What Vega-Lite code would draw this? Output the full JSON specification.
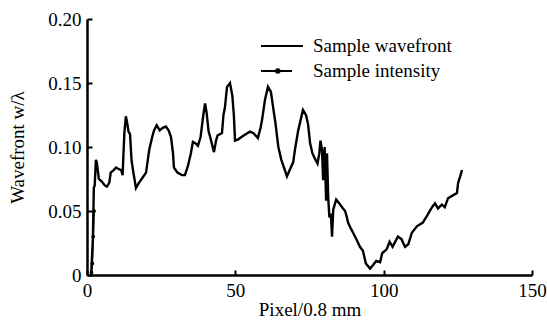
{
  "$schema": "https://vega.github.io/schema/vega-lite/v6.json",
  "width": 445,
  "height": 256,
  "autosize": {"type": "none"},
  "padding": {"left": 87, "top": 19, "right": 15, "bottom": 50},
  "background": "white",
  "config": {
    "font": "Liberation Serif",
    "view": {"stroke": null},
    "axis": {
      "grid": false,
      "domainColor": "black",
      "domainWidth": 2.5,
      "tickColor": "black",
      "tickWidth": 2,
      "tickSize": -5,
      "labelFont": "Liberation Serif",
      "labelFontSize": 19,
      "labelColor": "black",
      "titleFont": "Liberation Serif",
      "titleFontSize": 19,
      "titleFontWeight": "normal",
      "titleColor": "black"
    }
  },
  "datasets": {
    "wave": [
      {"x": 1.4, "y": 0.0}, {"x": 1.6, "y": 0.01}, {"x": 2.0, "y": 0.03}, {"x": 2.3, "y": 0.068},
      {"x": 2.6, "y": 0.07}, {"x": 3.0, "y": 0.09}, {"x": 3.3, "y": 0.088}, {"x": 4.0, "y": 0.075},
      {"x": 5.0, "y": 0.073}, {"x": 6.0, "y": 0.07}, {"x": 6.7, "y": 0.069}, {"x": 7.5, "y": 0.072},
      {"x": 8.0, "y": 0.08}, {"x": 9.0, "y": 0.082}, {"x": 9.8, "y": 0.084}, {"x": 10.5, "y": 0.083},
      {"x": 11.5, "y": 0.082}, {"x": 12.0, "y": 0.078}, {"x": 12.3, "y": 0.095}, {"x": 12.6, "y": 0.111},
      {"x": 13.1, "y": 0.124}, {"x": 13.6, "y": 0.118}, {"x": 14.0, "y": 0.112}, {"x": 14.5, "y": 0.11},
      {"x": 15.0, "y": 0.09}, {"x": 15.5, "y": 0.082}, {"x": 16.5, "y": 0.068}, {"x": 17.5, "y": 0.072},
      {"x": 19.0, "y": 0.077}, {"x": 19.9, "y": 0.08}, {"x": 20.5, "y": 0.09}, {"x": 21.0, "y": 0.098},
      {"x": 22.0, "y": 0.108}, {"x": 22.6, "y": 0.113}, {"x": 23.5, "y": 0.117}, {"x": 24.5, "y": 0.113},
      {"x": 25.5, "y": 0.115}, {"x": 26.6, "y": 0.116}, {"x": 27.5, "y": 0.113}, {"x": 28.3, "y": 0.108},
      {"x": 29.0, "y": 0.095}, {"x": 29.3, "y": 0.084}, {"x": 30.5, "y": 0.08}, {"x": 32.0, "y": 0.078},
      {"x": 33.0, "y": 0.078}, {"x": 34.0, "y": 0.085}, {"x": 35.0, "y": 0.095}, {"x": 35.7, "y": 0.104},
      {"x": 36.5, "y": 0.103}, {"x": 37.4, "y": 0.101}, {"x": 38.3, "y": 0.108}, {"x": 39.2, "y": 0.125},
      {"x": 39.8, "y": 0.134}, {"x": 40.3, "y": 0.127}, {"x": 41.0, "y": 0.112}, {"x": 41.5, "y": 0.108},
      {"x": 42.8, "y": 0.096}, {"x": 43.5, "y": 0.105}, {"x": 44.0, "y": 0.109}, {"x": 45.5, "y": 0.111},
      {"x": 46.0, "y": 0.125}, {"x": 46.5, "y": 0.131}, {"x": 47.2, "y": 0.147}, {"x": 48.2, "y": 0.15},
      {"x": 49.0, "y": 0.14}, {"x": 49.5, "y": 0.125}, {"x": 49.9, "y": 0.105}, {"x": 51.0, "y": 0.106},
      {"x": 52.2, "y": 0.108}, {"x": 53.5, "y": 0.11}, {"x": 54.9, "y": 0.112}, {"x": 56.0, "y": 0.111},
      {"x": 57.6, "y": 0.107}, {"x": 58.5, "y": 0.115}, {"x": 59.0, "y": 0.121}, {"x": 60.0, "y": 0.137},
      {"x": 61.0, "y": 0.147}, {"x": 62.0, "y": 0.143}, {"x": 62.8, "y": 0.13}, {"x": 63.5, "y": 0.119},
      {"x": 64.5, "y": 0.1}, {"x": 65.5, "y": 0.09}, {"x": 66.7, "y": 0.082}, {"x": 67.4, "y": 0.077},
      {"x": 68.5, "y": 0.083}, {"x": 69.5, "y": 0.088}, {"x": 70.1, "y": 0.098}, {"x": 71.2, "y": 0.113},
      {"x": 72.0, "y": 0.121}, {"x": 72.8, "y": 0.129}, {"x": 73.8, "y": 0.125}, {"x": 74.5, "y": 0.118},
      {"x": 75.2, "y": 0.103}, {"x": 76.0, "y": 0.095}, {"x": 76.8, "y": 0.091}, {"x": 77.7, "y": 0.087},
      {"x": 78.3, "y": 0.095}, {"x": 78.7, "y": 0.105}, {"x": 79.2, "y": 0.098}, {"x": 79.6, "y": 0.074},
      {"x": 80.1, "y": 0.1}, {"x": 80.6, "y": 0.058}, {"x": 80.9, "y": 0.095}, {"x": 81.3, "y": 0.061},
      {"x": 81.7, "y": 0.045}, {"x": 82.2, "y": 0.048}, {"x": 82.6, "y": 0.03}, {"x": 83.0, "y": 0.051},
      {"x": 84.0, "y": 0.059}, {"x": 85.0, "y": 0.056}, {"x": 86.3, "y": 0.052}, {"x": 87.0, "y": 0.05},
      {"x": 87.5, "y": 0.046}, {"x": 88.0, "y": 0.041}, {"x": 89.0, "y": 0.036}, {"x": 89.7, "y": 0.033},
      {"x": 91.0, "y": 0.027}, {"x": 92.0, "y": 0.022}, {"x": 93.0, "y": 0.019}, {"x": 94.0, "y": 0.009},
      {"x": 95.4, "y": 0.005}, {"x": 96.5, "y": 0.008}, {"x": 97.5, "y": 0.011}, {"x": 98.8, "y": 0.01},
      {"x": 99.5, "y": 0.017}, {"x": 101.0, "y": 0.02}, {"x": 102.0, "y": 0.026}, {"x": 103.0, "y": 0.022},
      {"x": 104.8, "y": 0.03}, {"x": 106.0, "y": 0.028}, {"x": 107.2, "y": 0.022}, {"x": 108.3, "y": 0.024},
      {"x": 109.5, "y": 0.033}, {"x": 111.2, "y": 0.038}, {"x": 113.2, "y": 0.041}, {"x": 114.8, "y": 0.047},
      {"x": 116.3, "y": 0.053}, {"x": 117.3, "y": 0.056}, {"x": 118.3, "y": 0.052}, {"x": 119.6, "y": 0.055},
      {"x": 120.6, "y": 0.053}, {"x": 121.7, "y": 0.06}, {"x": 123.2, "y": 0.062}, {"x": 124.7, "y": 0.064},
      {"x": 125.1, "y": 0.072}, {"x": 125.8, "y": 0.077}, {"x": 126.4, "y": 0.082}
    ],
    "intensity": [
      {"x": 1.5, "y": 0.002}, {"x": 1.8, "y": 0.009}, {"x": 2.1, "y": 0.03}, {"x": 2.4, "y": 0.05}
    ]
  },
  "layer": [
    {
      "data": {"name": "wave"},
      "mark": {"type": "line", "strokeWidth": 2.4, "interpolate": "linear"},
      "encoding": {
        "x": {
          "field": "x", "type": "quantitative",
          "scale": {"domain": [0, 150], "nice": false},
          "axis": {"values": [0, 50, 100, 150], "title": "Pixel/0.8 mm", "labelPadding": 11, "titlePadding": 0, "labelFlush": false}
        },
        "y": {
          "field": "y", "type": "quantitative",
          "scale": {"domain": [0, 0.2], "nice": false},
          "axis": {"values": [0, 0.05, 0.1, 0.15, 0.2], "title": "Wavefront w/λ", "labelPadding": 11, "titlePadding": 20,
                   "labelExpr": "datum.value == 0 ? '0' : format(datum.value, '.2f')"}
        },
        "color": {
          "datum": "Sample wavefront",
          "scale": {"domain": ["Sample wavefront", "Sample intensity"], "range": ["black", "black"]},
          "legend": {
            "orient": "none", "legendX": 184, "legendY": 16, "title": null, "padding": 0,
            "labelFont": "Liberation Serif", "labelFontSize": 19, "labelColor": "black",
            "symbolSize": 400, "symbolStrokeWidth": 2, "labelOffset": 20, "rowPadding": 4,
            "encode": {
              "symbols": {
                "update": {
                  "shape": {"signal": "datum.value === 'Sample intensity' ? 'M-2.1,0H1.0M-0.6,0A0.18,0.18,0,1,1,-0.24,0A0.18,0.18,0,1,1,-0.6,0Z' : 'M-2.1,0H2.1'"},
                  "fill": {"value": "black"},
                  "stroke": {"value": "black"},
                  "strokeWidth": {"value": 2}
                }
              }
            }
          }
        }
      }
    },
    {
      "data": {"name": "intensity"},
      "mark": {"type": "line", "strokeWidth": 1.5, "point": {"filled": true, "size": 14, "color": "black"}},
      "encoding": {
        "x": {"field": "x", "type": "quantitative"},
        "y": {"field": "y", "type": "quantitative"},
        "color": {"datum": "Sample intensity"}
      }
    }
  ]
}
